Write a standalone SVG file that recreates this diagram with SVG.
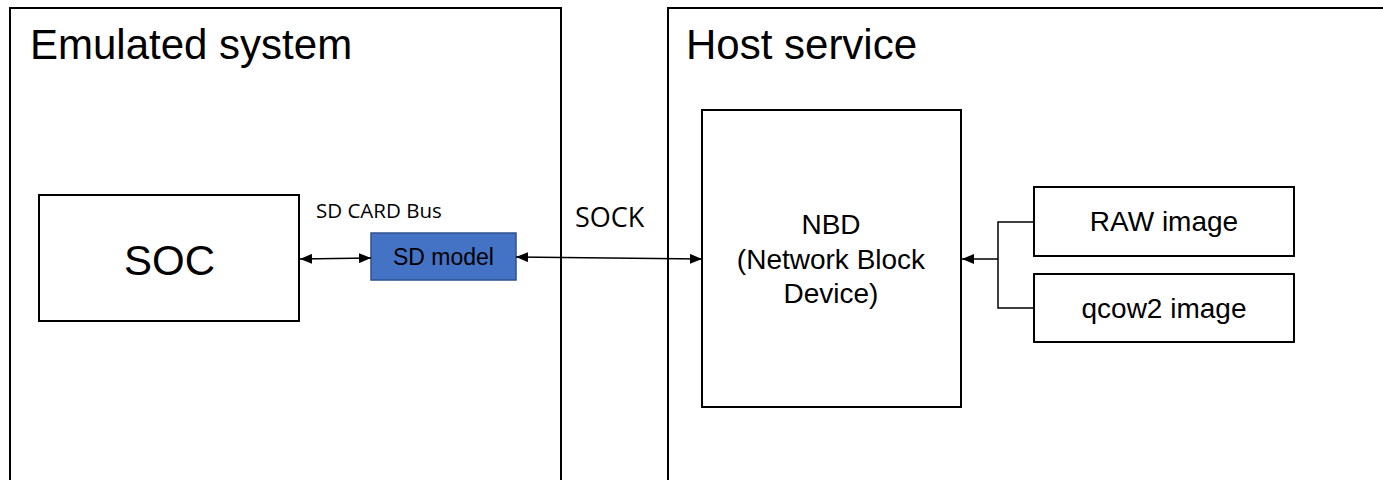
<svg xmlns="http://www.w3.org/2000/svg" width="1383" height="480" viewBox="0 0 1383 480">
  <style>
    .frame { fill: #ffffff; stroke: #000000; stroke-width: 2; }
    .box { fill: #ffffff; stroke: #000000; stroke-width: 2; }
    .blue { fill: #4472C4; stroke: #2F528F; stroke-width: 1.5; }
    .title { font-family: "Liberation Sans", Arial, sans-serif; font-size: 42px; fill: #000000; }
    .label { font-family: "Liberation Sans", Arial, sans-serif; fill: #000000; text-anchor: middle; }
    .note { font-family: "Open Sans", "Noto Sans", sans-serif; fill: #000000; }
    .wire { fill: none; stroke: #000000; stroke-width: 1.5; }
  </style>
  <defs>
    <marker id="head" viewBox="0 0 12 10" refX="12" refY="5" markerWidth="12" markerHeight="10" markerUnits="userSpaceOnUse" orient="auto-start-reverse">
      <path d="M0,0 L12,5 L0,10 Z" fill="#000000"/>
    </marker>
  </defs>
  <rect width="1383" height="480" fill="#ffffff"/>

  <!-- Emulated system container -->
  <g id="emulated-system">
    <rect class="frame" x="10" y="8" width="551" height="490"/>
    <text class="title" x="30" y="59">Emulated system</text>
  </g>

  <!-- Host service container -->
  <g id="host-service">
    <rect class="frame" x="668" y="8" width="740" height="490"/>
    <text class="title" x="686" y="59">Host service</text>
  </g>

  <g id="soc">
    <rect class="box" x="39" y="195" width="260" height="126"/>
    <text class="label" x="169.5" y="275" font-size="42">SOC</text>
  </g>

  <g id="sd-model">
    <rect class="blue" x="371" y="233" width="145" height="47"/>
    <text class="label" x="443.5" y="265" font-size="23">SD model</text>
  </g>

  <g id="nbd">
    <rect class="box" x="702" y="110" width="259" height="297"/>
    <text class="label" x="831" y="234" font-size="28">NBD</text>
    <text class="label" x="831" y="269" font-size="28">(Network Block</text>
    <text class="label" x="831" y="303" font-size="28">Device)</text>
  </g>

  <g id="raw-image">
    <rect class="box" x="1034" y="187" width="260" height="69"/>
    <text class="label" x="1164" y="231" font-size="28">RAW image</text>
  </g>

  <g id="qcow2-image">
    <rect class="box" x="1034" y="274" width="260" height="68"/>
    <text class="label" x="1164" y="318" font-size="28">qcow2 image</text>
  </g>

  <!-- Connectors and their labels -->
  <g id="connectors">
    <line class="wire" x1="300" y1="259" x2="371" y2="258" marker-start="url(#head)" marker-end="url(#head)"/>
    <text class="note" x="316" y="218" font-size="20.5">SD CARD Bus</text>
    <line class="wire" x1="516" y1="257" x2="702" y2="259" marker-start="url(#head)" marker-end="url(#head)"/>
    <text class="note" x="575" y="227" font-size="27">SOCK</text>
    <polyline class="wire" points="1034,222 998,222 998,308 1034,308"/>
    <line class="wire" x1="998" y1="259" x2="962" y2="259" marker-end="url(#head)"/>
  </g>
</svg>
